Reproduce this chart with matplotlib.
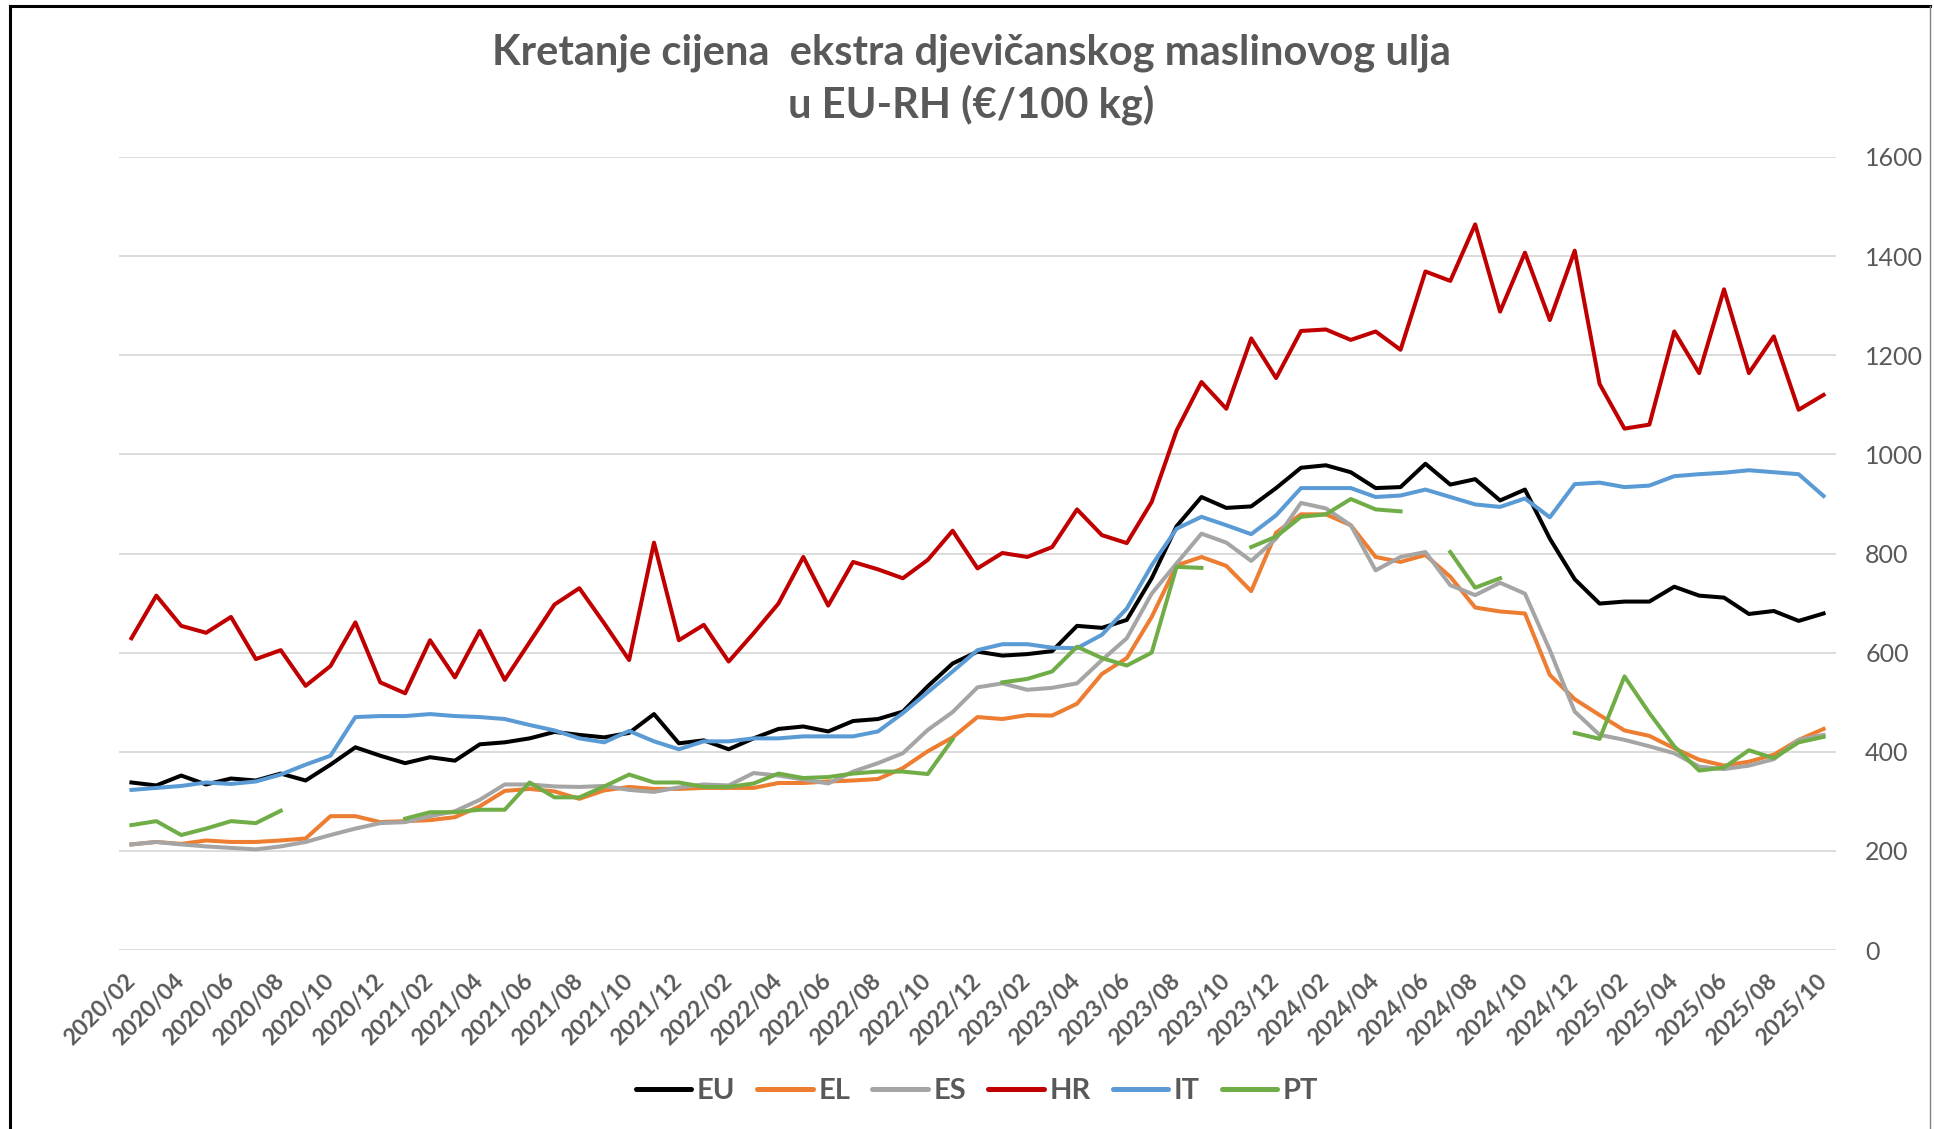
import numpy as np
import pandas as pd
import matplotlib
matplotlib.use("Agg")
import matplotlib.pyplot as plt
from matplotlib.lines import Line2D

nan = np.nan

# months 2020/02 .. 2025/10
months = list(pd.period_range("2020-02", "2025-10", freq="M").strftime("%Y/%m"))

eu = [338, 332, 352, 334, 346, 342, 356, 342, 374, 409,
      392, 377, 389, 382, 415, 419, 427, 440, 434, 429,
      438, 476, 417, 423, 405, 427, 446, 451, 441, 462,
      466, 481, 532, 578, 602, 594, 597, 603, 654, 650,
      666, 750, 855, 914, 892, 895, 932, 973, 978, 964,
      932, 934, 981, 939, 950, 907, 929, 830, 748, 699,
      703, 703, 733, 715, 711, 678, 684, 664, 679]

el = [213, 218, 214, 221, 218, 218, 221, 225, 270, 270,
      258, 260, 262, 268, 290, 321, 325, 320, 305, 322,
      329, 325, 325, 327, 327, 327, 337, 337, 340, 342,
      345, 367, 401, 429, 470, 466, 474, 473, 497, 557,
      589, 672, 776, 793, 775, 724, 842, 879, 879, 857,
      793, 783, 797, 753, 691, 683, 679, 555, 506, 474,
      443, 432, 407, 384, 372, 380, 394, 424, 446]

es = [213, 218, 213, 209, 206, 203, 209, 218, 232, 245,
      256, 258, 270, 280, 303, 334, 334, 330, 329, 331,
      323, 319, 328, 334, 332, 357, 352, 344, 336, 360,
      377, 397, 444, 480, 530, 538, 525, 529, 538, 585,
      629, 719, 780, 840, 822, 785, 830, 902, 891, 857,
      766, 793, 803, 736, 716, 741, 719, 605, 481, 434,
      424, 411, 397, 370, 365, 372, 385, 424, 434]

hr = [629, 715, 654, 640, 672, 587, 605, 533, 573, 661,
      540, 518, 625, 550, 644, 545, 621, 697, 730, 659,
      585, 822, 625, 656, 582, 639, 699, 793, 695, 783,
      768, 750, 787, 846, 770, 801, 793, 813, 889, 837,
      821, 904, 1048, 1146, 1092, 1234, 1154, 1249, 1252, 1231,
      1248, 1211, 1369, 1350, 1464, 1288, 1407, 1271, 1411, 1142,
      1052, 1060, 1248, 1164, 1333, 1164, 1238, 1090, 1120]

it = [323, 327, 331, 338, 335, 340, 354, 374, 392, 470,
      472, 472, 476, 472, 470, 466, 454, 443, 427, 419,
      442, 421, 405, 421, 421, 427, 427, 431, 431, 431,
      441, 478, 520, 562, 605, 617, 617, 610, 609, 636,
      689, 776, 850, 874, 857, 839, 877, 932, 932, 932,
      914, 917, 929, 914, 899, 894, 911, 873, 940, 943,
      934, 937, 956, 960, 963, 968, 964, 960, 916]

pt = [252, 260, 232, 245, 260, 256, 281, nan, nan, nan,
      nan, 265, 278, 278, 283, 283, 338, 308, 308, 330,
      354, 338, 338, 329, 329, 336, 356, 347, 349, 356,
      360, 360, 355, 425, nan, 540, 547, 562, 612, 589,
      574, 600, 773, 771, nan, 813, 834, 874, 879, 910,
      889, 885, nan, 803, 731, 750, nan, nan, 438, 426,
      552, 478, 411, 362, 368, 403, 387, 419, 430]

series = ["EU", "EL", "ES", "HR", "IT", "PT"]
colors = ["#000000", "#ED7D31", "#A5A5A5", "#C00000", "#5B9BD5", "#70AD47"]
values = [eu, el, es, hr, it, pt]

text_color = "#595959"
plt.rcParams["font.family"] = ["Lato", "DejaVu Sans"]

W, H = 1934, 1129
fig = plt.figure(figsize=(W / 100, H / 100), dpi=100)
ax = fig.add_axes([119 / W, 1 - 950 / H, 1717 / W, 793 / H])

x = np.arange(len(months))
for name, col, vals in zip(series, colors, values):
    ax.plot(x, vals, color=col, lw=2.9, label=name, solid_joinstyle="round")

ax.set_xlim(-0.5, len(months) - 0.5)
ax.set_ylim(0, 1600)
ax.set_yticks(range(0, 1601, 200))
ax.yaxis.tick_right()
ax.grid(axis="y", color="#D9D9D9", lw=1.3)
ax.set_axisbelow(True)
for s in ax.spines.values():
    s.set_visible(False)

ax.set_xticks(x[::2])
ax.set_xticklabels(months[::2])
ax.tick_params(axis="x", length=0, pad=20, labelsize=16.5, labelcolor=text_color)
ax.tick_params(axis="y", length=0, pad=21, labelsize=18, labelcolor=text_color)
plt.setp(ax.get_xticklabels(), rotation=45, ha="right", va="center",
         rotation_mode="anchor", fontweight="bold")

fig.text(971 / W, 1 - 65 / H, "Kretanje cijena  ekstra djevičanskog maslinovog ulja",
         ha="center", va="baseline", fontsize=30, fontweight="bold", color=text_color)
fig.text(971 / W, 1 - 117 / H, "u EU-RH (€/100 kg)",
         ha="center", va="baseline", fontsize=30, fontweight="bold", color=text_color)

leg = ax.legend(loc="center", bbox_to_anchor=(977 / W, 1 - 1091 / H),
                bbox_transform=fig.transFigure, ncol=6, frameon=False,
                fontsize=21, handlelength=1.9, handletextpad=0.2, columnspacing=0.75)
for t in leg.get_texts():
    t.set_color(text_color)
    t.set_fontweight("bold")
for ln in leg.get_lines():
    ln.set_linewidth(3.6)
    ln.set_solid_capstyle("round")

# chart border
fig.add_artist(Line2D([10 / W, 10 / W], [0, 1 - 6 / H], color="black", lw=2.2))
fig.add_artist(Line2D([10 / W, 1930 / W], [1 - 6 / H, 1 - 6 / H], color="black", lw=2.2))
fig.add_artist(Line2D([1930 / W, 1930 / W], [0, 1 - 6 / H], color="#808080", lw=1))

fig.savefig("out.png", dpi=100, facecolor="white")
